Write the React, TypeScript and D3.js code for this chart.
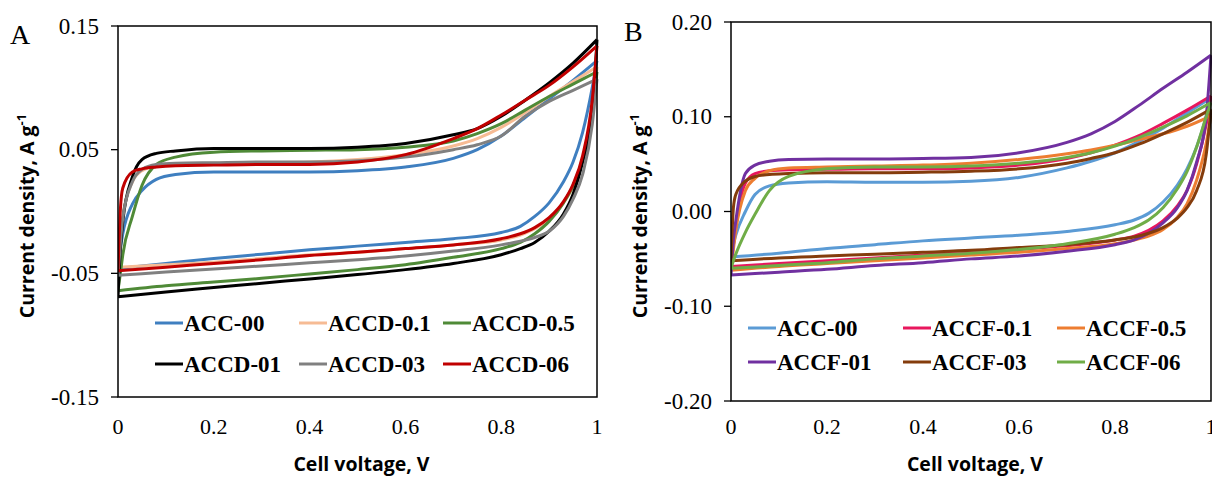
import React from 'react';
import * as d3 from 'd3';

// sweep voltages (V): forward (anodic) and reverse (cathodic) branches
const vUp = [0, 0.005, 0.01, 0.03, 0.05, 0.08, 0.12, 0.2, 0.3, 0.4, 0.5, 0.6, 0.7, 0.75, 0.8, 0.85, 0.9, 0.95, 1];
const vDown = [1, 0.99, 0.97, 0.95, 0.93, 0.9, 0.87, 0.84, 0.8, 0.7, 0.6, 0.5, 0.4, 0.3, 0.2, 0.1, 0];

const xTicks = [0, 0.2, 0.4, 0.6, 0.8, 1];

// Panel A
const namesA = ['ACC-00', 'ACCD-0.1', 'ACCD-0.5', 'ACCD-01', 'ACCD-03', 'ACCD-06'];
const colorsA = ['#3f7fc0', '#f6bb94', '#4f8a37', '#000000', '#808080', '#c00000'];
const yTicksA = [-0.15, -0.05, 0.05, 0.15];
const upA = [
  [-0.046, -0.03, -0.018, 0.006, 0.017, 0.026, 0.03, 0.032, 0.032, 0.032, 0.033, 0.036, 0.043, 0.05, 0.061, 0.076, 0.091, 0.106, 0.122],
  [-0.045, -0.02, -0.004, 0.024, 0.033, 0.037, 0.0385, 0.039, 0.0395, 0.04, 0.042, 0.046, 0.053, 0.059, 0.068, 0.08, 0.093, 0.105, 0.117],
  [-0.064, -0.05, -0.035, -0.004, 0.021, 0.038, 0.044, 0.048, 0.049, 0.0495, 0.05, 0.052, 0.057, 0.063, 0.071, 0.082, 0.093, 0.103, 0.113],
  [-0.069, -0.03, -0.008, 0.028, 0.042, 0.047, 0.049, 0.051, 0.051, 0.051, 0.052, 0.055, 0.062, 0.067, 0.077, 0.09, 0.104, 0.12, 0.139],
  [-0.0515, -0.025, -0.005, 0.024, 0.034, 0.038, 0.039, 0.0395, 0.04, 0.04, 0.041, 0.044, 0.05, 0.054, 0.061, 0.077, 0.089, 0.098, 0.107],
  [-0.048, 0.002, 0.019, 0.032, 0.0345, 0.036, 0.037, 0.0375, 0.038, 0.038, 0.04, 0.046, 0.059, 0.067, 0.078, 0.09, 0.102, 0.117, 0.134],
];
const downA = [
  [0.122, 0.1, 0.064, 0.04, 0.024, 0.007, -0.004, -0.012, -0.017, -0.022, -0.025, -0.028, -0.031, -0.0345, -0.038, -0.042, -0.046],
  [0.117, 0.082, 0.043, 0.02, 0.007, -0.006, -0.014, -0.019, -0.023, -0.027, -0.03, -0.033, -0.035, -0.038, -0.041, -0.043, -0.045],
  [0.113, 0.08, 0.042, 0.021, 0.007, -0.008, -0.018, -0.025, -0.03, -0.037, -0.043, -0.047, -0.0505, -0.054, -0.057, -0.06, -0.064],
  [0.139, 0.08, 0.04, 0.014, -0.002, -0.016, -0.025, -0.03, -0.035, -0.042, -0.047, -0.051, -0.0545, -0.058, -0.0615, -0.065, -0.069],
  [0.107, 0.07, 0.03, 0.01, -0.004, -0.016, -0.021, -0.024, -0.027, -0.032, -0.036, -0.039, -0.0415, -0.044, -0.0465, -0.049, -0.0515],
  [0.134, 0.09, 0.045, 0.022, 0.008, -0.005, -0.013, -0.018, -0.022, -0.027, -0.03, -0.033, -0.0355, -0.039, -0.042, -0.045, -0.048],
];

// Panel B
const namesB = ['ACC-00', 'ACCF-0.1', 'ACCF-0.5', 'ACCF-01', 'ACCF-03', 'ACCF-06'];
const colorsB = ['#5b9bd5', '#e8175d', '#ed7d31', '#7030a0', '#843c0c', '#70ad47'];
const yTicksB = [-0.2, -0.1, 0, 0.1, 0.2];
const upB = [
  [-0.048, -0.035, -0.025, 0.0, 0.018, 0.027, 0.03, 0.0315, 0.031, 0.031, 0.032, 0.036, 0.046, 0.053, 0.062, 0.074, 0.088, 0.104, 0.12],
  [-0.058, -0.035, -0.015, 0.03, 0.04, 0.043, 0.044, 0.0445, 0.045, 0.045, 0.046, 0.049, 0.056, 0.062, 0.07, 0.08, 0.093, 0.107, 0.122],
  [-0.062, -0.04, -0.02, 0.022, 0.035, 0.043, 0.046, 0.047, 0.048, 0.049, 0.051, 0.055, 0.061, 0.065, 0.07, 0.076, 0.082, 0.09, 0.101],
  [-0.067, -0.03, -0.01, 0.04, 0.049, 0.053, 0.055, 0.0555, 0.0555, 0.056, 0.057, 0.062, 0.073, 0.082, 0.095, 0.112, 0.13, 0.147, 0.165],
  [-0.052, 0.004, 0.018, 0.032, 0.037, 0.039, 0.04, 0.041, 0.041, 0.0415, 0.0425, 0.045, 0.051, 0.056, 0.062, 0.071, 0.082, 0.094, 0.108],
  [-0.06, -0.052, -0.045, -0.022, -0.003, 0.022, 0.037, 0.045, 0.047, 0.047, 0.048, 0.051, 0.057, 0.062, 0.069, 0.078, 0.089, 0.101, 0.115],
];
const downB = [
  [0.12, 0.1, 0.068, 0.045, 0.028, 0.01, -0.002, -0.009, -0.014, -0.021, -0.025, -0.028, -0.031, -0.035, -0.039, -0.044, -0.048],
  [0.122, 0.092, 0.05, 0.022, 0.006, -0.01, -0.02, -0.026, -0.03, -0.036, -0.04, -0.043, -0.046, -0.049, -0.052, -0.055, -0.058],
  [0.101, 0.072, 0.033, 0.008, -0.006, -0.019, -0.026, -0.03, -0.034, -0.039, -0.043, -0.046, -0.049, -0.052, -0.055, -0.058, -0.062],
  [0.165, 0.1, 0.052, 0.022, 0.004, -0.012, -0.023, -0.03, -0.035, -0.042, -0.047, -0.05, -0.054, -0.057, -0.061, -0.064, -0.067],
  [0.108, 0.06, 0.022, 0.004, -0.007, -0.017, -0.023, -0.027, -0.03, -0.035, -0.038, -0.041, -0.043, -0.045, -0.047, -0.049, -0.052],
  [0.115, 0.1, 0.068, 0.042, 0.024, 0.004, -0.009, -0.017, -0.024, -0.034, -0.04, -0.044, -0.047, -0.05, -0.054, -0.057, -0.06],
];

const serif = "'Liberation Serif', 'Times New Roman', Times, serif";
const sans = "'Open Sans', 'Noto Sans', sans-serif";

// Excel-style tick labels use a plain hyphen for negatives
const fmtY = (v: number) => d3.format('.2f')(v).replace('\u2212', '-');

type PanelProps = {
  left: number; right: number; top: number; bottom: number;
  yDomain: [number, number]; yTicks: number[];
  names: string[]; colors: string[]; up: number[][]; down: number[][];
  label: string; labelX: number; labelY: number; titleX: number;
  legendCols: number[]; legendRows: number[];
};

const Panel = (p: PanelProps) => {
  const x = d3.scaleLinear().domain([0, 1]).range([p.left, p.right]);
  const y = d3.scaleLinear().domain(p.yDomain).range([p.bottom, p.top]);
  const line = d3.line<[number, number]>().x(d => x(d[0])).y(d => y(d[1])).curve(d3.curveMonotoneX);
  const clipId = 'clip' + p.label;
  return (
    <g>
      <defs>
        <clipPath id={clipId}>
          <rect x={p.left} y={p.top - 4} width={p.right - p.left + 4} height={p.bottom - p.top + 8} />
        </clipPath>
      </defs>
      <text x={p.labelX} y={p.labelY} fontFamily={serif} fontSize={28}>{p.label}</text>
      {p.yTicks.map(t => (
        <g key={t}>
          <line x1={p.left - 7} x2={p.left} y1={y(t)} y2={y(t)} stroke="#000" strokeWidth={1.3} />
          <text x={p.left - 19} y={y(t) + 7.5} textAnchor="end" fontFamily={serif} fontSize={23}>{fmtY(t)}</text>
        </g>
      ))}
      {xTicks.map(t => (
        <text key={t} x={x(t)} y={434} textAnchor="middle" fontFamily={serif} fontSize={22}>{String(t)}</text>
      ))}
      <g clipPath={`url(#${clipId})`}>
        {p.names.map((n, i) => {
          const upPts = vUp.map((v, j) => [v, p.up[i][j]] as [number, number]);
          const dnPts = vDown.map((v, j) => [v, p.down[i][j]] as [number, number]).reverse();
          return (
            <path key={n} d={(line(upPts) || '') + (line(dnPts) || '')} fill="none"
              stroke={p.colors[i]} strokeWidth={3} strokeLinejoin="round" />
          );
        })}
      </g>
      <rect x={p.left} y={p.top} width={p.right - p.left} height={p.bottom - p.top}
        fill="none" stroke="#000" strokeWidth={1.5} />
      {p.names.map((n, i) => {
        const lx = p.legendCols[i % 3];
        const ly = p.legendRows[Math.floor(i / 3)];
        return (
          <g key={n}>
            <line x1={lx} x2={lx + 28} y1={ly} y2={ly} stroke={p.colors[i]} strokeWidth={3} />
            <text x={lx + 29} y={ly + 8} fontFamily={serif} fontWeight="bold" fontSize={23}>{n}</text>
          </g>
        );
      })}
      <text x={(p.left + p.right) / 2 + 4} y={471} textAnchor="middle" fontFamily={sans} fontWeight="bold" fontSize={19.5}>
        Cell voltage, V
      </text>
      <text transform={`translate(${p.titleX},216) rotate(-90)`} textAnchor="middle" fontFamily={sans}
        fontWeight="bold" fontSize={19.5}>
        Current density, A g<tspan dy={-8} fontSize={13}>-1</tspan>
      </text>
    </g>
  );
};

export default function App() {
  return (
    <svg width={1212} height={477} style={{ position: 'absolute', left: 0, top: 0, background: '#fff' }}>
      <Panel left={118} right={597} top={26} bottom={397} yDomain={[-0.15, 0.15]} yTicks={yTicksA}
        names={namesA} colors={colorsA} up={upA} down={downA}
        label="A" labelX={10} labelY={44} titleX={34}
        legendCols={[155, 299, 443]} legendRows={[323, 364]} />
      <Panel left={731} right={1211} top={22} bottom={401} yDomain={[-0.2, 0.2]} yTicks={yTicksB}
        names={namesB} colors={colorsB} up={upB} down={downB}
        label="B" labelX={624} labelY={41} titleX={647}
        legendCols={[748, 903, 1057]} legendRows={[328, 362]} />
    </svg>
  );
}
